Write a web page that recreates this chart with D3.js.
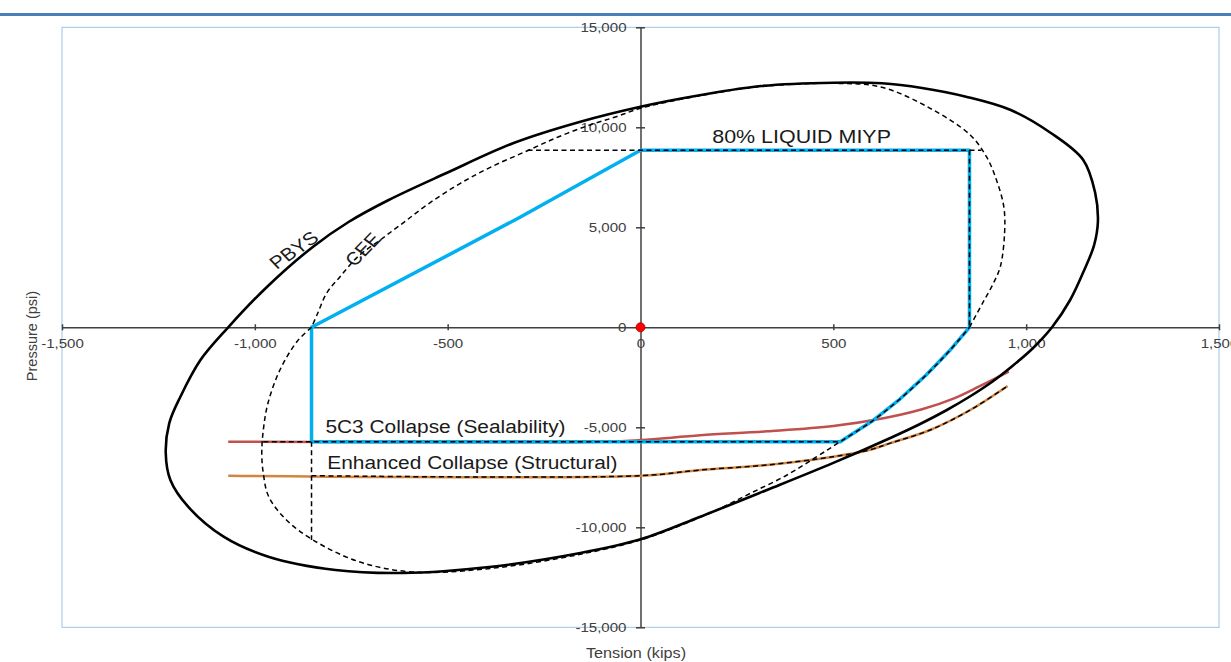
<!DOCTYPE html>
<html>
<head>
<meta charset="utf-8">
<script src="https://cdn.jsdelivr.net/npm/d3@7"></script>
<style>
  body { margin: 0; background: #fff; }
  svg { display: block; font-family: "Liberation Sans", Arial, sans-serif; }
</style>
</head>
<body>
<div id="chart"></div>
<script>
var svgWidth = 1231;
var svgHeight = 662;
var margin = { top: 27.3, right: 12, bottom: 34.7, left: 62 };
var width = svgWidth - margin.left - margin.right;
var height = svgHeight - margin.top - margin.bottom;

// the picture is a little wider than tall, so text gets stretched too
var sx = 1.16;

// Tick values
var xTicks = [-1500, -1000, -500, 0, 500, 1000, 1500];
var yTicks = [-15000, -10000, -5000, 0, 5000, 10000, 15000];

// PBYS ellipse, [tension kips, pressure psi]
var pbysPoints = [
  [0, 11030], [-156, 10280], [-329, 9215], [-503, 7715], [-653, 6365], [-757, 5265],
  [-849, 4030], [-968, 2030], [-1069, 0], [-1141, -1635], [-1193, -3470], [-1222, -4800],
  [-1231, -6285], [-1219, -7635], [-1173, -8970], [-1081, -10470], [-965, -11470],
  [-791, -12135], [-617, -12285], [-386, -11970], [-156, -11285], [0, -10600], [155, -9470],
  [328, -8135], [500, -6780], [655, -5470], [725, -4835], [792, -4160], [854, -3460],
  [911, -2735], [966, -1910], [1018, -1035], [1067, 0], [1114, 1365], [1148, 2750],
  [1176, 4100], [1186, 5280], [1179, 6715], [1148, 8365], [1064, 9715], [960, 10865],
  [844, 11530], [730, 11965], [626, 12200], [500, 12230], [313, 12065], [157, 11615]
];

// CEE curve, upper and lower arcs
var ceeUpperPoints = [
  [853, 0], [889, 1280], [915, 2200], [933, 3030], [944, 4700], [942, 6030], [923, 7365],
  [897, 8530], [855, 9615], [751, 10950], [626, 12000], [500, 12200], [313, 12040],
  [157, 11590], [0, 10950], [-63, 10530], [-131, 10115], [-212, 9530], [-293, 8830],
  [-386, 8030], [-467, 7200], [-548, 6200], [-617, 5200], [-675, 4365], [-733, 3530],
  [-779, 2530], [-814, 1700], [-837, 700], [-853, 0]
];
var ceeLowerPoints = [
  [-853, 0], [-890, -700], [-935, -2135], [-966, -3800], [-978, -5135], [-982, -6300],
  [-978, -7300], [-964, -8470], [-918, -9635], [-849, -10635], [-733, -11700],
  [-594, -12230], [-386, -12050], [-156, -11350], [0, -10635], [95, -9970], [198, -9135],
  [285, -8300], [380, -7385], [457, -6470], [518, -5720], [600, -4700], [672, -3600],
  [740, -2400], [800, -1200], [853, 0]
];

// 5C3 Collapse (Sealability)
var sealabilityPoints = [
  [-1069, -5720], [-100, -5720], [0, -5640], [155, -5400], [328, -5200], [500, -4935],
  [630, -4550], [730, -4100], [813, -3550], [877, -2970], [955, -2220]
];

// Enhanced Collapse (Structural)
var structuralPoints = [
  [-1069, -7420], [0, -7420], [155, -7135], [328, -6885], [500, -6470], [590, -6150],
  [650, -5780], [751, -5135], [855, -4135], [952, -2935]
];

// design envelope (blue)
var envelopePoints = [
  [0, 8850], [853, 8850], [853, 0], [800, -1200], [740, -2400], [672, -3600], [600, -4700],
  [518, -5720], [-853, -5720], [-853, 0], [-316, 5465], [0, 8850]
];

// dashed helper lines
var miypDashPoints = [[-293, 8850], [884, 8850]];
var rightDashPoints = [[853, 8850], [853, 0]];
var collapseDashPoints = [[-978, -5720], [518, -5720]];
var leftDashPoints = [[-853, -5720], [-853, -10635]];
var structuralDashPoints = [
  [-853, -7420], [0, -7420], [155, -7135], [328, -6885], [500, -6470], [590, -6150],
  [650, -5780], [751, -5135], [855, -4135], [952, -2935]
];

var svg = d3.select("#chart")
  .append("svg")
  .attr("width", svgWidth)
  .attr("height", svgHeight);

// top rule
svg.append("line")
  .attr("x1", 0).attr("x2", svgWidth)
  .attr("y1", 14.5).attr("y2", 14.5)
  .attr("stroke", "#4a7ebb")
  .attr("stroke-width", 3);

var chartGroup = svg.append("g")
  .attr("transform", `translate(${margin.left}, ${margin.top})`);

// plot frame
chartGroup.append("rect")
  .attr("width", width)
  .attr("height", height)
  .attr("fill", "none")
  .attr("stroke", "#9dc3e6")
  .attr("stroke-width", 1);

var xScale = d3.scaleLinear().domain([-1500, 1500]).range([0, width]);
var yScale = d3.scaleLinear().domain([-15000, 15000]).range([height, 0]);

var fmt = d3.formatLocale({ decimal: ".", thousands: ",", grouping: [3], currency: ["", ""], minus: "-" }).format(",");

// Axes crossing at the origin
var bottomAxis = d3.axisBottom(xScale).tickValues(xTicks).tickFormat(fmt)
  .tickSizeInner(3).tickSizeOuter(0).tickPadding(8);
var leftAxis = d3.axisLeft(yScale).tickValues(yTicks).tickFormat(fmt)
  .tickSizeInner(4.5).tickSizeOuter(0).tickPadding(9.5);

var xAxisG = chartGroup.append("g")
  .attr("transform", `translate(0, ${yScale(0)})`)
  .call(bottomAxis);
xAxisG.selectAll(".tick line").attr("y1", -3).attr("y2", 3);

var yAxisG = chartGroup.append("g")
  .attr("transform", `translate(${xScale(0)}, 0)`)
  .call(leftAxis);
yAxisG.selectAll(".tick line").attr("x1", -4.5).attr("x2", 4.5);
yAxisG.selectAll(".tick text").attr("x", -14 / sx);

[xAxisG, yAxisG].forEach(function (g) {
  g.selectAll("path, line").attr("stroke", "#404040").attr("stroke-width", 1.5);
  g.selectAll("text")
    .attr("transform", `scale(${sx},1)`)
    .attr("fill", "#404040")
    .style("font-family", "'Liberation Sans', Arial, sans-serif")
    .style("font-size", "13px");
});

var line = d3.line()
  .x(d => xScale(d[0]))
  .y(d => yScale(d[1]));
var smoothLine = d3.line()
  .x(d => xScale(d[0]))
  .y(d => yScale(d[1]))
  .curve(d3.curveCatmullRom);
var closedLine = d3.line()
  .x(d => xScale(d[0]))
  .y(d => yScale(d[1]))
  .curve(d3.curveCatmullRomClosed);

// Collapse curves
chartGroup.append("path")
  .attr("d", smoothLine(sealabilityPoints))
  .attr("fill", "none")
  .attr("stroke", "#c0504d")
  .attr("stroke-width", 2.5);
chartGroup.append("path")
  .attr("d", smoothLine(structuralPoints))
  .attr("fill", "none")
  .attr("stroke", "#d4843f")
  .attr("stroke-width", 2.5);

// blue envelope
chartGroup.append("path")
  .attr("d", line(envelopePoints))
  .attr("fill", "none")
  .attr("stroke", "#00b0f0")
  .attr("stroke-width", 3.5)
  .attr("stroke-linejoin", "round");

// PBYS
chartGroup.append("path")
  .attr("d", closedLine(pbysPoints))
  .attr("fill", "none")
  .attr("stroke", "#000")
  .attr("stroke-width", 2.6);

// CEE and dashed lines
var dashed = [
  smoothLine(ceeUpperPoints), smoothLine(ceeLowerPoints), line(miypDashPoints), line(rightDashPoints),
  line(collapseDashPoints), line(leftDashPoints), smoothLine(structuralDashPoints)
];
chartGroup.selectAll(".dash")
  .data(dashed)
  .enter()
  .append("path")
  .attr("class", "dash")
  .attr("d", d => d)
  .attr("fill", "none")
  .attr("stroke", "#000")
  .attr("stroke-width", 1.5)
  .attr("stroke-dasharray", "5,3.5");

// origin marker
chartGroup.append("circle")
  .attr("cx", xScale(0))
  .attr("cy", yScale(0))
  .attr("r", 4.5)
  .attr("fill", "#ff0000")
  .attr("stroke", "#b00000")
  .attr("stroke-width", 0.8);

// Labels
function label(t, p, str, size, angle, anchor) {
  chartGroup.append("text")
    .attr("transform", `translate(${xScale(t)}, ${yScale(p)}) scale(${sx},1)` + (angle ? ` rotate(${angle})` : ""))
    .attr("text-anchor", anchor || "start")
    .attr("dy", angle ? "0.35em" : 0)
    .attr("fill", "#1a1a1a")
    .style("font-size", size + "px")
    .text(str);
}
label(186, 9230, "80% LIQUID MIYP", 18.5);
label(-817, -5285, "5C3 Collapse (Sealability)", 18);
label(-812, -7085, "Enhanced Collapse (Structural)", 18);
label(-899, 3865, "PBYS", 18, -39, "middle");
label(-720, 3900, "CEE", 18, -50, "middle");

// Axis titles
svg.append("text")
  .attr("transform", "translate(32, 336) rotate(-90)")
  .attr("text-anchor", "middle")
  .attr("dy", "0.35em")
  .attr("fill", "#404040")
  .style("font-size", "14.5px")
  .text("Pressure (psi)");

svg.append("text")
  .attr("transform", `translate(636, 658) scale(${sx},1)`)
  .attr("text-anchor", "middle")
  .attr("fill", "#404040")
  .style("font-size", "14px")
  .text("Tension (kips)");
</script>
</body>
</html>
